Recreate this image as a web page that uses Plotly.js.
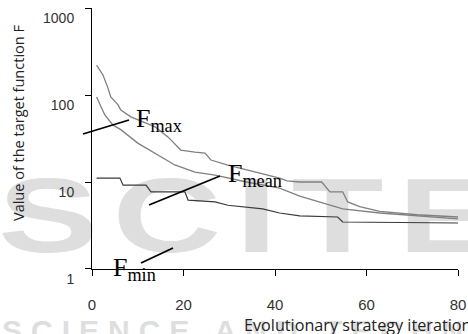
<!DOCTYPE html>
<html><head><meta charset="utf-8">
<script src="https://cdn.plot.ly/plotly-3.0.1.min.js"></script>
<style>
html,body{margin:0;padding:0;background:#fff;}
#wrap{position:relative;width:468px;height:334px;overflow:hidden;}
#wm{position:absolute;left:0;top:0;width:468px;height:334px;z-index:0;font-family:'Liberation Sans',Arial,sans-serif;color:#dedede;font-weight:bold;}
#wm1{position:absolute;left:-2px;top:162px;font-size:106px;line-height:1;transform-origin:0 0;transform:scaleX(1.42);white-space:nowrap;letter-spacing:10px}
#wm2{position:absolute;left:2px;top:316px;font-size:30px;line-height:1;white-space:nowrap;letter-spacing:9px}
#chart{position:absolute;left:0;top:0;width:468px;height:334px;z-index:1;}
</style></head><body>
<div id="wrap"><div id="wm"><div id="wm1">SCITE</div><div id="wm2">SCIENCE AND TECHNOLOGY</div></div><div id="chart"></div></div>
<script>
// Data
const maxIter = [1, 2.4, 3.5, 4.1, 5.7, 6.3, 8.5, 13.8, 16.6, 19.4, 22.5, 24.7, 26, 27.5, 29.5, 41, 42.6, 45.4, 50.2, 52, 54.8, 55.9, 58.5, 62.9, 71, 80];
const maxVal  = [221, 170, 120, 95, 77, 67, 56, 43, 33, 23.3, 22.1, 21.5, 17.9, 17, 15.7, 11.1, 10.3, 10, 10, 7.7, 7.7, 5.9, 5.2, 4.6, 4.2, 3.96];
const meanIter = [1, 2.8, 4.6, 6.3, 10, 13.8, 18.1, 22.5, 26.9, 33.8, 41, 45.4, 49.8, 54.8, 62.9, 71, 80];
const meanVal  = [95, 59, 45, 40, 28, 21.5, 15.7, 13, 12, 10, 8.5, 6.9, 5.9, 4.9, 4.4, 4.1, 3.76];
const minIter = [1, 6.1, 6.8, 11.8, 12.9, 20.3, 21, 26.9, 29.7, 37.3, 41, 45.4, 53.7, 54.8, 80];
const minVal  = [11.1, 11.1, 9.2, 9.2, 7.7, 7.7, 6.2, 5.9, 5.4, 4.9, 4.4, 4.07, 3.96, 3.47, 3.38];
const xTicks = [0, 20, 40, 60, 80];
const yTicks = [1, 10, 100, 1000];
const yTickText = ['1', '10', '100', '1000'];
const labels = ['F<sub>max</sub>', 'F<sub>mean</sub>', 'F<sub>min</sub>'];
const xTitle = 'Evolutionary strategy iterations';
const yTitle = 'Value of the target function F';

// pixel helpers for layout-only placement
const L = 92, R = 10, T = 8, B = 65, W = 468, H = 334;
const pw = W - L - R, ph = H - T - B;
const px = p => (p - L) / pw;
const py = p => (H - B - p) / ph;

const traces = [
  {x: maxIter, y: maxVal, mode: 'lines', line: {color: '#808080', width: 1.3}},
  {x: meanIter, y: meanVal, mode: 'lines', line: {color: '#808080', width: 1.3}},
  {x: minIter, y: minVal, mode: 'lines', line: {color: '#3a3a3a', width: 1.2}}
];

const serif = {family: "'Liberation Serif', 'Times New Roman', serif", size: 26, color: '#000'};
const sans = "'Liberation Sans', Arial, sans-serif";
const layout = {
  width: W, height: H,
  margin: {l: L, r: R, t: T, b: B},
  paper_bgcolor: 'rgba(0,0,0,0)', plot_bgcolor: 'rgba(0,0,0,0)',
  showlegend: false,
  xaxis: {range: [0, 80], tickvals: xTicks, ticks: 'outside', ticklen: 6, tickcolor: '#000',
    showline: true, linecolor: '#000', linewidth: 1, showgrid: false, zeroline: false,
    tickfont: {family: sans, size: 15, color: '#333'}, ticklabelstandoff: 16},
  yaxis: {type: 'log', range: [-0.0001, 3.0001], tickmode: 'array', tickvals: yTicks, ticktext: yTickText,
    ticks: 'outside', ticklen: 6, tickcolor: '#000',
    showline: true, linecolor: '#000', linewidth: 1, showgrid: false, zeroline: false,
    tickfont: {family: sans, size: 14, color: '#333'}, ticklabelshift: 10, ticklabelstandoff: 8},
  annotations: [
    {xref: 'paper', yref: 'paper', x: px(134), y: py(120), xanchor: 'left', yanchor: 'middle', text: labels[0], showarrow: false, font: serif},
    {xref: 'paper', yref: 'paper', x: px(226), y: py(175), xanchor: 'left', yanchor: 'middle', text: labels[1], showarrow: false, font: serif},
    {xref: 'paper', yref: 'paper', x: px(111), y: py(269), xanchor: 'left', yanchor: 'middle', text: labels[2], showarrow: false, font: serif},
    {xref: 'paper', yref: 'paper', x: px(242), y: py(325), xanchor: 'left', yanchor: 'middle', text: xTitle, showarrow: false,
      font: {family: "'Open Sans', sans-serif", size: 16.2, color: '#222'}},
    {xref: 'paper', yref: 'paper', x: px(18), y: py(123), xanchor: 'center', yanchor: 'middle', textangle: -90, text: yTitle, showarrow: false,
      font: {family: "'Open Sans', sans-serif", size: 14.5, color: '#222'}}
  ],
  shapes: [
    {type: 'line', xref: 'paper', yref: 'paper', x0: px(83), y0: py(134), x1: px(129), y1: py(120), line: {color: '#000', width: 1.8}},
    {type: 'line', xref: 'paper', yref: 'paper', x0: px(149), y0: py(205), x1: px(220), y1: py(176), line: {color: '#000', width: 1.8}},
    {type: 'line', xref: 'paper', yref: 'paper', x0: px(141), y0: py(263), x1: px(173), y1: py(248), line: {color: '#000', width: 1.8}}
  ]
};

Plotly.newPlot('chart', traces, layout, {staticPlot: true, displayModeBar: false});
</script>
</body></html>
